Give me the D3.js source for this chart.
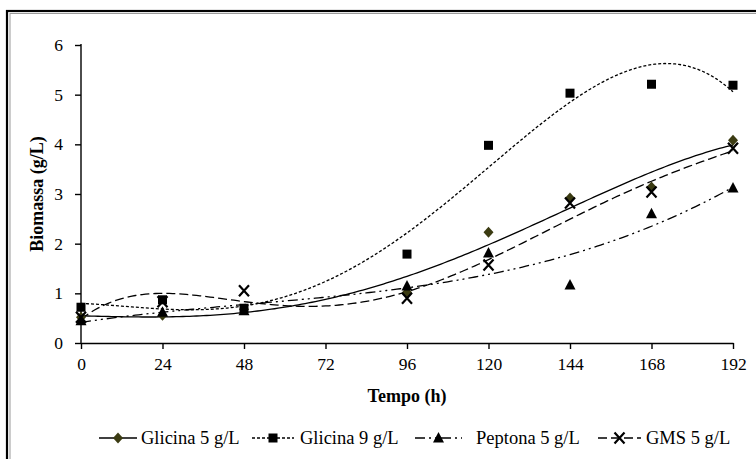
<!DOCTYPE html>
<html>
<head>
<meta charset="utf-8">
<script src="https://cdn.jsdelivr.net/npm/d3@7"></script>
<style>
  html, body { margin: 0; padding: 0; background: #fff; }
  svg { display: block; }
  svg text { font-family: "Liberation Serif", "Times New Roman", serif; fill: #000; }
</style>
</head>
<body>
<svg id="chart" width="756" height="459"></svg>
<script>
// Sampling times (h)
const tempo = [0, 24, 48, 96, 120, 144, 168, 192];

// Biomass (g/L) per culture medium
const glicina5 = [0.52, 0.56, 0.68, 1.02, 2.23, 2.92, 3.14, 4.08];
const glicina9 = [0.72, 0.87, 0.70, 1.79, 3.98, 5.03, 5.21, 5.19];
const peptona5 = [0.45, 0.62, 0.65, 1.15, 1.81, 1.17, 2.60, 3.12];
const gms5     = [0.52, 0.83, 1.05, 0.90, 1.57, 2.82, 3.04, 3.92];

const seriesNames = ["Glicina 5 g/L", "Glicina 9 g/L", "Peptona 5 g/L", "GMS 5 g/L"];
// Polynomial order of each trend line
const trendOrder = [4, 4, 3, 5];

const xTicks = [0, 24, 48, 72, 96, 120, 144, 168, 192];
const yTicks = [0, 1, 2, 3, 4, 5, 6];

const series = [
  { name: seriesNames[0], values: glicina5, order: trendOrder[0], marker: "diamond",  dash: null,           fill: "#3b3b12" },
  { name: seriesNames[1], values: glicina9, order: trendOrder[1], marker: "square",   dash: "3,2",          fill: "#000" },
  { name: seriesNames[2], values: peptona5, order: trendOrder[2], marker: "triangle", dash: "10,4,2,4,2,4", fill: "#000" },
  { name: seriesNames[3], values: gms5,     order: trendOrder[3], marker: "cross",    dash: "9,4",          fill: "#000" }
];

// Least-squares polynomial fit on t scaled to [0,1]
function polyfit(xs, ys, order) {
  const n = order + 1;
  const M = Array.from({ length: n }, () => new Array(n + 1).fill(0));
  xs.forEach((x, k) => {
    const u = x / 192;
    for (let i = 0; i < n; i++) {
      for (let j = 0; j < n; j++) M[i][j] += Math.pow(u, i + j);
      M[i][n] += Math.pow(u, i) * ys[k];
    }
  });
  for (let c = 0; c < n; c++) {
    let p = c;
    for (let r = c + 1; r < n; r++) if (Math.abs(M[r][c]) > Math.abs(M[p][c])) p = r;
    [M[c], M[p]] = [M[p], M[c]];
    for (let r = 0; r < n; r++) {
      if (r === c) continue;
      const f = M[r][c] / M[c][c];
      for (let k = c; k <= n; k++) M[r][k] -= f * M[c][k];
    }
  }
  const coef = M.map((row, i) => row[n] / row[i]);
  return t => { const u = t / 192; return coef.reduce((s, a, i) => s + a * Math.pow(u, i), 0); };
}

const svg = d3.select("#chart");
const serif = "'Liberation Serif', 'Times New Roman', serif";

// Outer double frame
svg.append("rect").attr("x", 7).attr("y", 11).attr("width", 800).attr("height", 500)
  .attr("fill", "none").attr("stroke", "#000").attr("stroke-width", 2.2);
svg.append("rect").attr("x", 10).attr("y", 13.5).attr("width", 800).attr("height", 500)
  .attr("fill", "none").attr("stroke", "#9a9a9a").attr("stroke-width", 1);

const x = d3.scaleLinear().domain([0, 192]).range([81, 733]);
const y = d3.scaleLinear().domain([0, 6]).range([343, 45]);

// Axes
const xAxis = svg.append("g").attr("transform", `translate(0,${y(0)})`)
  .call(d3.axisBottom(x).tickValues(xTicks).tickFormat(d3.format("d")).tickSize(6).tickPadding(9).tickSizeOuter(0));
const yAxis = svg.append("g").attr("transform", `translate(${x(0)},0)`)
  .call(d3.axisLeft(y).tickValues(yTicks).tickFormat(d3.format("d")).tickSize(6).tickPadding(12).tickSizeOuter(0));
[xAxis, yAxis].forEach(g => {
  g.attr("font-family", null).attr("font-size", null);
  g.selectAll("path, line").attr("stroke", "#000").attr("stroke-width", 1.4);
  g.selectAll("text").style("font-family", serif).style("font-size", "17.5px").attr("fill", "#000");
});
yAxis.select(".domain").attr("d", `M0,${y(6) - 1}V${y(0)}`);

// Axis titles
svg.append("text").attr("x", x(96)).attr("y", 402).attr("text-anchor", "middle")
  .style("font-size", "18px").style("font-weight", "bold").text("Tempo (h)");
svg.append("text").attr("transform", `translate(43,194) rotate(-90)`).attr("text-anchor", "middle")
  .style("font-size", "18px").style("font-weight", "bold").text("Biomassa (g/L)");

// Marker shapes
function drawMarker(g, kind, cx, cy, fill) {
  if (kind === "diamond") {
    g.append("path").attr("d", `M${cx},${cy - 5.5}L${cx + 5},${cy}L${cx},${cy + 5.5}L${cx - 5},${cy}Z`).attr("fill", fill);
  } else if (kind === "square") {
    g.append("rect").attr("x", cx - 4.5).attr("y", cy - 4.5).attr("width", 9).attr("height", 9).attr("fill", fill);
  } else if (kind === "triangle") {
    g.append("path").attr("d", `M${cx},${cy - 6}L${cx + 5.5},${cy + 4.5}L${cx - 5.5},${cy + 4.5}Z`).attr("fill", fill);
  } else {
    g.append("path").attr("d", `M${cx - 5},${cy - 5.5}L${cx + 5},${cy + 5.5}M${cx + 5},${cy - 5.5}L${cx - 5},${cy + 5.5}`)
      .attr("stroke", fill).attr("stroke-width", 2.2);
  }
}

const line = d3.line().x(d => x(d[0])).y(d => y(d[1]));
const sampleT = d3.range(0, 192.5, 1);

// Trend lines
series.forEach(s => {
  const f = polyfit(tempo, s.values, s.order);
  svg.append("path").datum(sampleT.map(t => [t, f(t)]))
    .attr("d", line).attr("fill", "none").attr("stroke", "#000").attr("stroke-width", 1.3)
    .attr("stroke-dasharray", s.dash);
});

// Data points
const pts = svg.append("g");
series.forEach(s => {
  s.values.forEach((v, i) => drawMarker(pts, s.marker, x(tempo[i]), y(v), s.fill));
});

// Legend: sample line span and label start for each entry
const legendLine = [[99, 137], [252, 294], [415, 462], [598, 641]];
const legendText = [141, 300, 476, 646];
const legend = svg.append("g");
series.forEach((s, i) => {
  const [x1, x2] = legendLine[i], ly = 438;
  legend.append("line").attr("x1", x1).attr("x2", x2).attr("y1", ly).attr("y2", ly)
    .attr("stroke", "#000").attr("stroke-width", 1.3).attr("stroke-dasharray", s.dash);
  drawMarker(legend, s.marker, (x1 + x2) / 2, ly, s.fill);
  legend.append("text").attr("x", legendText[i]).attr("y", ly + 6).style("font-size", "18.5px").text(s.name);
});
</script>
</body>
</html>
